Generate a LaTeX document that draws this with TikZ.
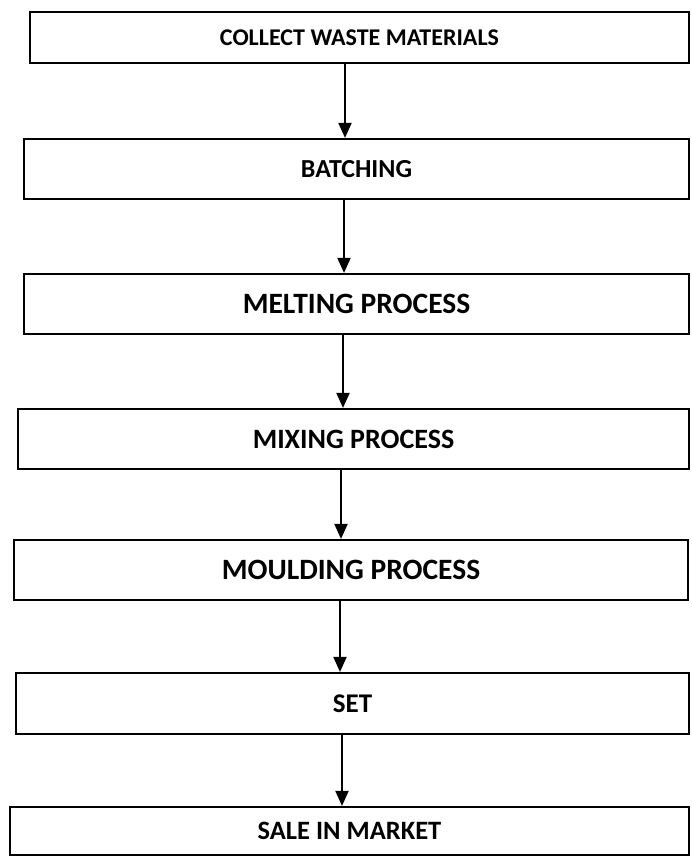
\documentclass[tikz,border=0pt]{standalone}
\usepackage{fontspec}
\setmainfont{Carlito}
\usetikzlibrary{arrows.meta}

\begin{document}
\begin{tikzpicture}[x=1pt,y=-1pt,
		stage/.style = {rectangle,draw,line width=2.2pt,inner sep=0pt,minimum height=60pt},
		flow/.style = {line width=2pt,-{Triangle[length=15pt,width=13pt]}}]
	\useasboundingbox (0,0) rectangle (691,857);
	
	\node[stage,minimum width=659pt,minimum height=51pt,font=\fontsize{24}{28}\selectfont\bfseries] (collect) at (359.5,37.5) {COLLECT WASTE MATERIALS};
	\node[stage,minimum width=665pt,font=\fontsize{26}{30}\selectfont\bfseries] (batch) at (356.5,169) {BATCHING};
	\node[stage,minimum width=665pt,font=\fontsize{29.5}{33}\selectfont\bfseries] (melt) at (356.5,304) {MELTING PROCESS};
	\node[stage,minimum width=671pt,font=\fontsize{28}{32}\selectfont\bfseries] (mix) at (353.5,439) {MIXING PROCESS};
	\node[stage,minimum width=674pt,font=\fontsize{29.5}{33}\selectfont\bfseries] (mould) at (351,570) {MOULDING PROCESS};
	\node[stage,minimum width=673pt,minimum height=61pt,font=\fontsize{27}{31}\selectfont\bfseries] (set) at (352.5,703.5) {SET};
	\node[stage,minimum width=679pt,minimum height=48pt,font=\fontsize{26.5}{30}\selectfont\bfseries] (sale) at (349.5,831) {SALE IN MARKET};
	
	\draw[flow] ([xshift=-14.5pt]collect.south) -- ([xshift=-11.5pt]batch.north);
	\draw[flow] ([xshift=-12.5pt]batch.south) -- ([xshift=-12.5pt]melt.north);
	\draw[flow] ([xshift=-13.5pt]melt.south) -- ([xshift=-10.5pt]mix.north);
	\draw[flow] ([xshift=-12.5pt]mix.south) -- ([xshift=-10pt]mould.north);
	\draw[flow] ([xshift=-11pt]mould.south) -- ([xshift=-12.5pt]set.north);
	\draw[flow] ([xshift=-10.5pt]set.south) -- ([xshift=-7.5pt]sale.north);
\end{tikzpicture}
\end{document}
